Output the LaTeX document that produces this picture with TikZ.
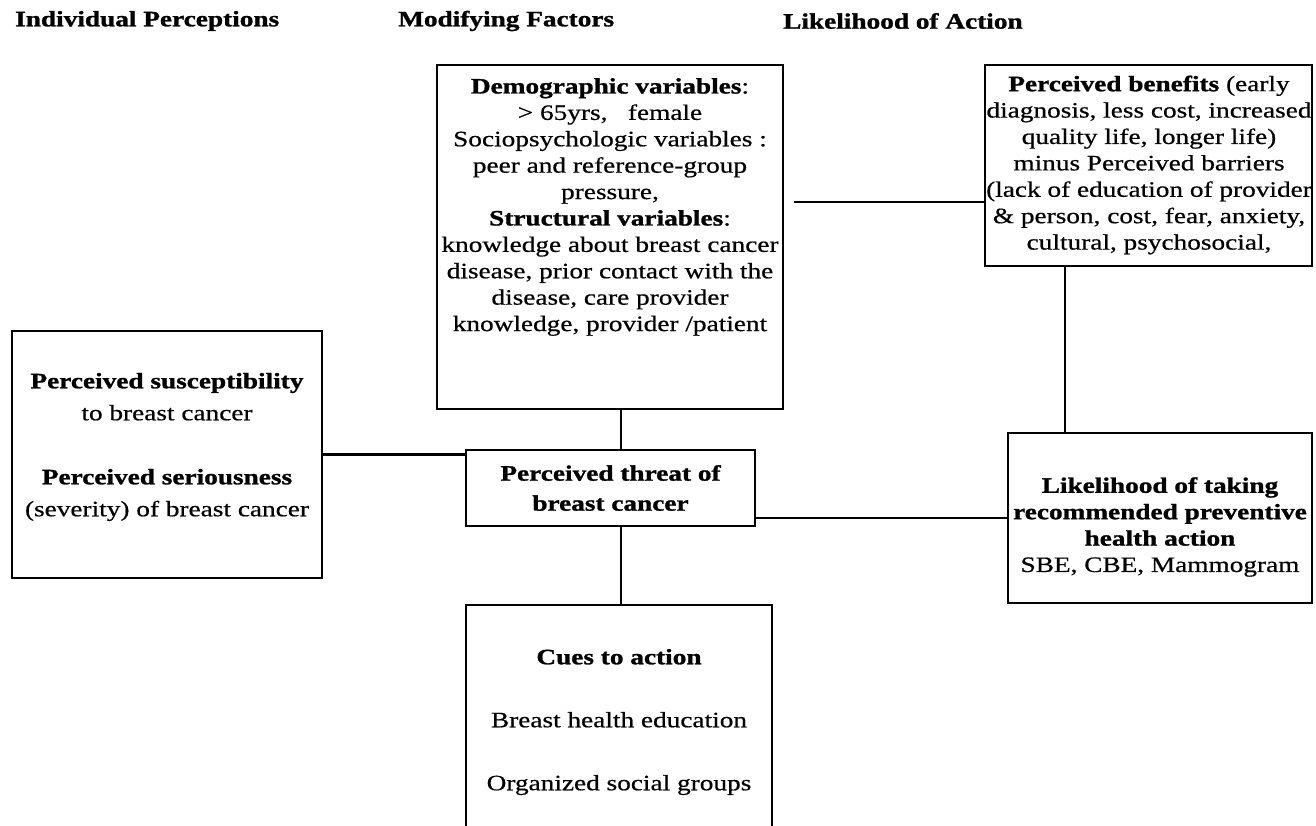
\documentclass[tikz,border=0pt]{standalone}
\usepackage{fontspec}
\setmainfont[FakeStretch=1.24,
  UprightFeatures={FakeBold=0.6},
  BoldFeatures={FakeBold=1.2}]{Liberation Serif}
\begin{document}
\begin{tikzpicture}[x=1pt,y=-1pt,
  box/.style={draw, line width=2.8pt, inner sep=0pt},
  conn/.style={line width=2.8pt},
  txt/.style={align=center, inner sep=0pt, font=\fontsize{22}{26.4}\selectfont},
  head/.style={anchor=west, inner sep=0pt, font=\fontsize{22}{26}\selectfont\bfseries}]
\clip (0,0) rectangle (1316,826);
\useasboundingbox (0,0) rectangle (1316,826);
% headers
\node[head] (h1) at (15,21) {Individual Perceptions};
\node[head] (h2) at (398,21) {Modifying Factors};
\node[head] (h3) at (783,21) {Likelihood of Action};
% boxes
\node[box, minimum width=346pt, minimum height=344pt] (demo) at (610,237) {};
\node[box, minimum width=327pt, minimum height=201pt] (ben) at (1148.5,165.5) {};
\node[box, minimum width=304pt, minimum height=170pt] (like) at (1160,518) {};
\node[box, minimum width=310pt, minimum height=247pt] (left) at (167,454.5) {};
\node[box, minimum width=289pt, minimum height=76pt] (threat) at (610.5,488) {};
\node[box, minimum width=306pt, minimum height=260pt] (cues) at (619,735) {};
% texts
\node[txt] (tdemo) at (610,207) {\textbf{Demographic variables}:\\ {>} 65yrs,\ \ \ female\\ Sociopsychologic variables :\\ peer and reference-group\\ pressure,\\ \textbf{Structural variables}:\\ knowledge about breast cancer\\ disease, prior contact with the\\ disease, care provider\\ knowledge, provider /patient};
\node[txt] (tben) at (1149,165) {\textbf{Perceived benefits} (early\\ diagnosis, less cost, increased\\ quality life, longer life)\\ minus Perceived barriers\\ (lack of education of provider\\ \& person, cost, fear, anxiety,\\ cultural, psychosocial,};
\node[txt] (tlike) at (1160,527) {\textbf{Likelihood of taking}\\ \textbf{recommended preventive}\\ \textbf{health action}\\ SBE, CBE, Mammogram};
\node[txt, font=\fontsize{22}{32}\selectfont] (tleft) at (167,447) {\textbf{Perceived susceptibility}\\ to breast cancer\\[32pt] \textbf{Perceived seriousness}\\ (severity) of breast cancer};
\node[txt, font=\fontsize{22}{30}\selectfont\bfseries] (tthreat) at (610.5,488) {Perceived threat of\\ breast cancer};
\node[txt, font=\fontsize{22}{31.5}\selectfont] (tcues) at (619,722) {\textbf{Cues to action}\\[31.5pt] Breast health education\\[31.5pt] Organized social groups};
% connectors
\coordinate (vx) at (621,0);
\coordinate (bx) at (1065,0);
\draw[conn] (left.east) -- (left.east -| threat.west);
\draw[conn] (demo.south -| vx) -- (threat.north -| vx);
\draw[conn] (threat.south -| vx) -- (cues.north -| vx);
\draw[conn] (threat.east |- like.west) -- (like.west);
\draw[conn, shorten <=10pt] (demo.east |- 0,202) -- (ben.west |- 0,202);
\draw[conn] (ben.south -| bx) -- (like.north -| bx);
\end{tikzpicture}
\end{document}
